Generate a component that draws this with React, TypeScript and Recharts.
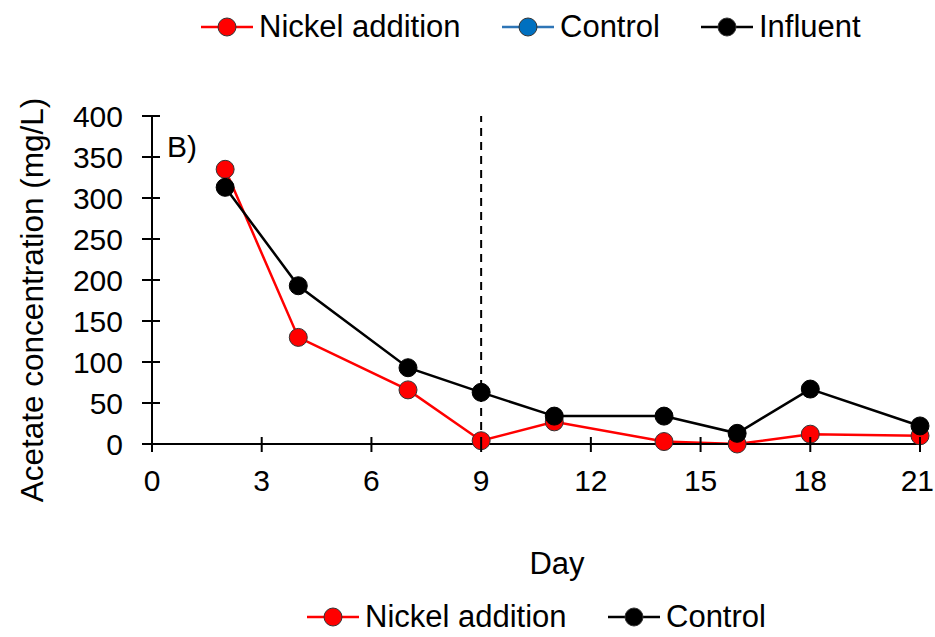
import React from 'react';
import { LineChart, Line, XAxis, YAxis, ReferenceLine, Label } from 'recharts';

const days = [2, 4, 7, 9, 11, 14, 16, 18, 21];
const nickel = [335, 130, 66, 4, 27, 3, 0, 12, 10];
const control = [313, 193, 93, 63, 34, 34, 13, 67, 22];
const xTicks = [0, 3, 6, 9, 12, 15, 18, 21];
const yTicks = [0, 50, 100, 150, 200, 250, 300, 350, 400];
const nickelAddedDay = 9;

const data = days.map((d, i) => ({ day: d, nickel: nickel[i], control: control[i] }));

const FONT = '"Liberation Sans", Arial, sans-serif';

const YTick = (props: any) => {
  const { x, y, payload } = props;
  return (
    <g>
      <line x1={x + 19} x2={x + 37} y1={y} y2={y} stroke="#000" strokeWidth={2} />
      <text x={x} y={y} dy="0.36em" textAnchor="end" fontSize={30} fontFamily={FONT} fill="#000">
        {payload.value}
      </text>
    </g>
  );
};

const XTick = (props: any) => {
  const { x, y, payload, index } = props;
  const last = index === xTicks.length - 1;
  return (
    <g>
      <line x1={x} x2={x} y1={y - 33} y2={y - 18} stroke="#000" strokeWidth={2} />
      <text
        x={last ? x + 14 : x}
        y={y}
        dy="0.71em"
        textAnchor={last ? 'end' : 'middle'}
        fontSize={30}
        fontFamily={FONT}
        fill="#000"
      >
        {payload.value}
      </text>
    </g>
  );
};

const LegendItem = ({ color, fill, label, left, lineW = 52 }: any) => (
  <div style={{ position: 'absolute', left, top: 0, display: 'flex', alignItems: 'center', height: 40 }}>
    <svg width={lineW} height={22} style={{ marginRight: 6 }}>
      <line x1={0} x2={lineW} y1={11} y2={11} stroke={color} strokeWidth={2.5} />
      <circle cx={lineW / 2} cy={11} r={9} fill={fill} stroke="#333" strokeWidth={1} />
    </svg>
    <span style={{ fontFamily: FONT, fontSize: 31, color: '#000', whiteSpace: 'nowrap' }}>{label}</span>
  </div>
);

export default function App() {
  return (
    <div style={{ position: 'absolute', left: 0, top: 0, width: 935, height: 637, background: '#fff' }}>
      <div style={{ position: 'absolute', left: 0, top: 7, width: 935, height: 40 }}>
        <LegendItem color="#ff0000" fill="#ff0000" label="Nickel addition" left={201} />
        <LegendItem color="#2e75b6" fill="#0070c0" label="Control" left={502} />
        <LegendItem color="#000" fill="#000" label="Influent" left={701} />
      </div>
      <LineChart
        width={935}
        height={637}
        data={data}
        margin={{ top: 116, right: 15, bottom: 133, left: 0 }}
      >
        <XAxis
          dataKey="day"
          type="number"
          domain={[0, 21]}
          ticks={xTicks}
          interval={0}
          axisLine={{ stroke: '#000', strokeWidth: 2 }}
          tickLine={false}
          tickSize={8}
          tickMargin={18}
          tick={<XTick />}
          height={60}
        >
          <Label
            content={() => (
              <text x={557} y={563} dy="0.35em" textAnchor="middle" fontSize={31} fontFamily={FONT} fill="#000">
                Day
              </text>
            )}
          />
        </XAxis>
        <YAxis
          type="number"
          domain={[0, 400]}
          ticks={yTicks}
          interval={0}
          width={152}
          axisLine={{ stroke: '#000', strokeWidth: 2 }}
          tickLine={false}
          tickSize={10}
          tickMargin={19}
          tick={<YTick />}
        >
          <Label
            content={() => (
              <text
                x={32}
                y={300}
                dy="0.35em"
                textAnchor="middle"
                fontSize={31.5}
                fontFamily={FONT}
                fill="#000"
                transform="rotate(-90, 32, 300)"
              >
                Acetate concentration (mg/L)
              </text>
            )}
          />
        </YAxis>
        <Line
          dataKey="nickel"
          name="Nickel addition"
          stroke="#ff0000"
          strokeWidth={2.5}
          dot={{ r: 9, fill: '#ff0000', stroke: '#333', strokeWidth: 1 }}
          activeDot={false}
          isAnimationActive={false}
        />
        <Line
          dataKey="control"
          name="Control"
          stroke="#000"
          strokeWidth={2.5}
          dot={{ r: 9, fill: '#000', stroke: '#000', strokeWidth: 1 }}
          activeDot={false}
          isAnimationActive={false}
        />
        <ReferenceLine
          x={nickelAddedDay}
          stroke="#000"
          strokeWidth={2}
          strokeDasharray="8 6"
          ifOverflow="extendDomain"
        />
        <text x={167} y={146} dy="0.35em" fontSize={30} fontFamily={FONT} fill="#000">B)</text>
      </LineChart>
      <div style={{ position: 'absolute', left: 0, top: 597, width: 935, height: 40 }}>
        <LegendItem color="#ff0000" fill="#ff0000" label="Nickel addition" left={307} />
        <LegendItem color="#000" fill="#000" label="Control" left={608} />
      </div>
    </div>
  );
}
